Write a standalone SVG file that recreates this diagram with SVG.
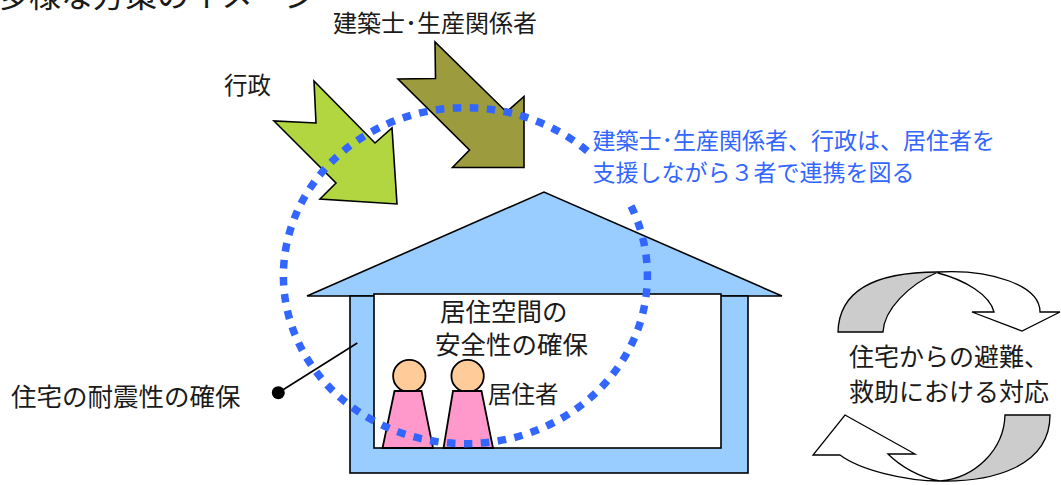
<svg xmlns="http://www.w3.org/2000/svg" width="1061" height="485" viewBox="0 0 1061 485">
  <style>
    text { font-family: "Noto Sans CJK JP", "Noto Sans", sans-serif; fill: #1a1a1a; }
    .blue { fill: #3366ff; }
    .line { stroke: #000; stroke-width: 1.6; stroke-linejoin: miter; }
    .flow { stroke: #000; stroke-width: 1.3; stroke-linejoin: miter; }
    .head { fill: #ffcc99; stroke: #000; stroke-width: 1.8; }
    .body { fill: #ff99cc; stroke: #000; stroke-width: 1.8; stroke-linejoin: miter; }
  </style>

  <!-- title, partly above the top edge -->
  <text x="-3" y="7" font-size="32">多様な方策のイメージ</text>

  <!-- house -->
  <g id="house">
    <polygon class="line" points="307,296 544,192 782,296" fill="#99ccff"/>
    <rect class="line" x="350" y="296" width="398" height="177" fill="#99ccff" stroke-width="2"/>
    <rect class="line" x="374" y="294" width="347" height="154" fill="#ffffff" stroke-width="2"/>
    <text x="440" y="321" font-size="25.5">居住空間の</text>
    <text x="435" y="354" font-size="25.5">安全性の確保</text>
  </g>

  <!-- residents -->
  <g id="residents">
    <circle class="head" cx="409.3" cy="376" r="16.2"/>
    <polygon class="body" points="394.5,391 421.5,391 433,448 382.5,448"/>
    <circle class="head" cx="467.6" cy="376" r="16.2"/>
    <polygon class="body" points="453,391 481.5,391 493,448 443.5,448"/>
    <text x="488" y="403" font-size="23.5">居住者</text>
  </g>

  <!-- support arrows -->
  <g id="gov">
    <polygon class="line" fill="#b2d640" points="314,81 316,123 274,121 336,183 320,199 397,204 392,128 375,143"/>
    <text x="224" y="93.5" font-size="23.5">行政</text>
  </g>
  <g id="builders">
    <polygon class="line" fill="#9c9b3e" points="435,42 435.5,78.5 398,79 469.5,150 452.5,167.5 524,167.5 524,96.5 506.5,112"/>
    <text x="333" y="32" font-size="24">建築士･生産関係者</text>
  </g>

  <!-- cooperation ring and pointer -->
  <g id="connectors">
    <path d="M631,206 A182,168 0 1 1 592,155" fill="none" stroke="#3366ff" stroke-width="7.5" stroke-dasharray="8.5 8.5"/>
    <line class="line" x1="278.3" y1="392.7" x2="357.3" y2="343"/>
    <circle cx="278.3" cy="392.7" r="6.5" fill="#000"/>
  </g>

  <g id="cooperation">
    <text class="blue" x="592.5" y="148.5" font-size="23">建築士･生産関係者、行政は、居住者を</text>
    <text class="blue" x="592.5" y="180.5" font-size="23">支援しながら３者で連携を図る</text>
  </g>

  <g id="seismic">
    <text x="11" y="406" font-size="25.5">住宅の耐震性の確保</text>
  </g>

  <!-- evacuation / rescue cycle -->
  <g id="evacuation">
    <path class="flow" fill="#ffffff" d="M938,272 C990,269 1040,285 1040,312 L1060,312 L1022,331 L972,312 L994,312 C990,295 965,280 938,273 Z"/>
    <path class="flow" fill="#cccccc" d="M838,332 C839,292 872,272 938,272 C908,285 884,310 883,332 Z"/>
    <path class="flow" fill="#ffffff" d="M940,481 C905,481 860,470 840,455 L813,455 L845,415 L915,454 L888,454 C900,466 920,478 940,481 Z"/>
    <path class="flow" fill="#cccccc" d="M1005,415 L1050,415 C1050,468 990,482 940,481 C975,478 1004,450 1005,415 Z"/>
    <text x="849" y="366" font-size="25">住宅からの避難、</text>
    <text x="849" y="401" font-size="25">救助における対応</text>
  </g>
</svg>
